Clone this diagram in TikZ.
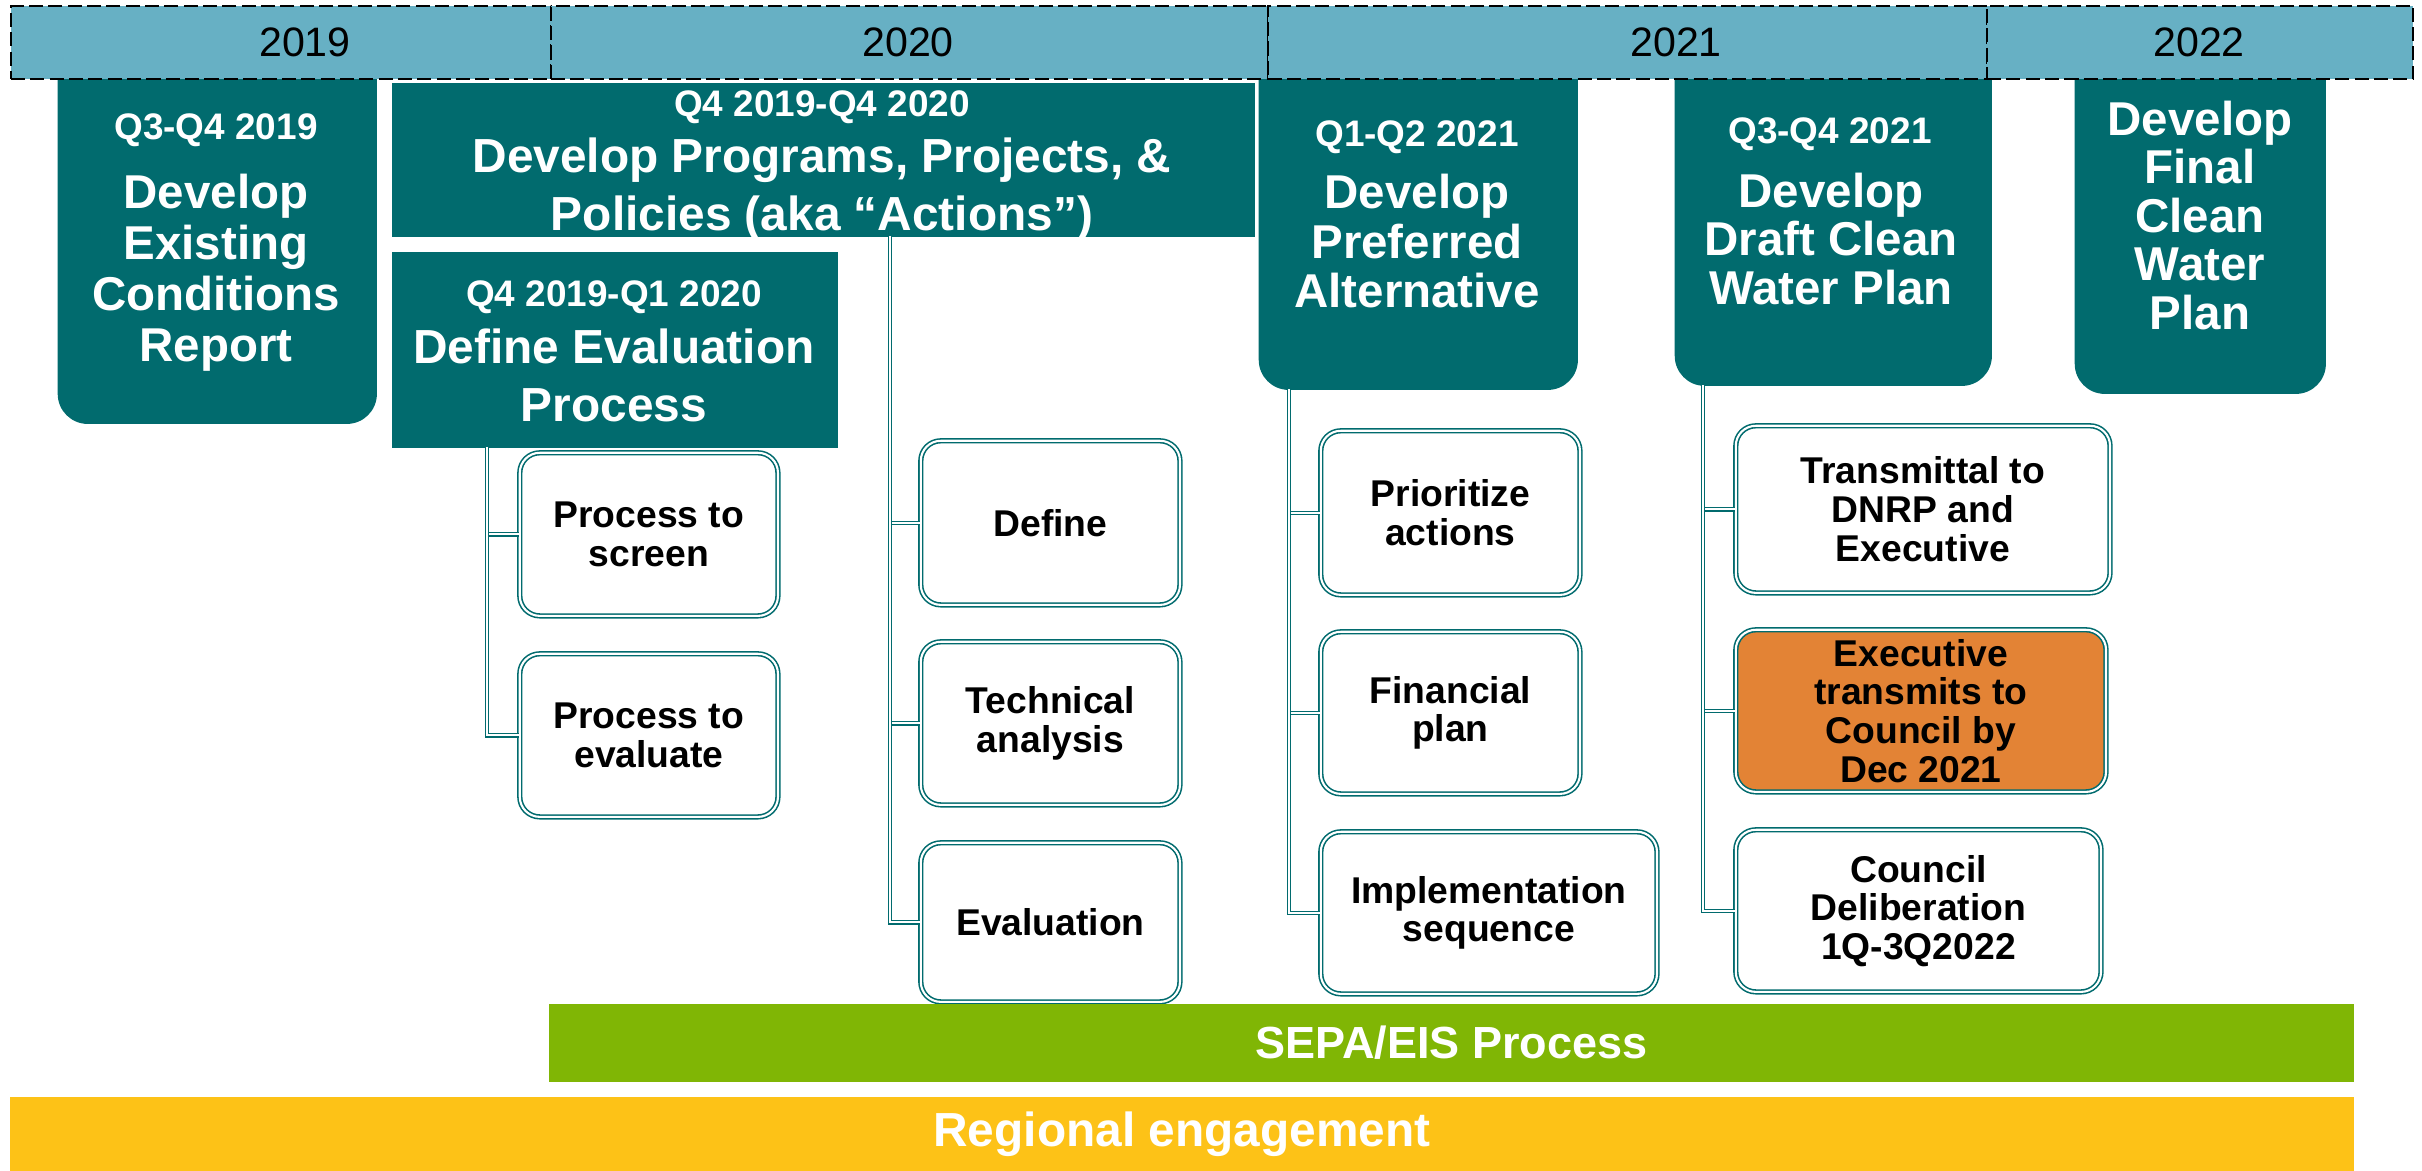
\documentclass[tikz,border=0pt]{standalone}
\usepackage{fontspec}
\setmainfont{Liberation Sans}
\definecolor{boxteal}{RGB}{1,107,110}
\definecolor{yearblue}{RGB}{103,176,196}
\definecolor{taskorange}{RGB}{227,131,53}
\definecolor{sepagreen}{RGB}{128,182,5}
\definecolor{engageyellow}{RGB}{253,194,23}

\begin{document}
\begin{tikzpicture}[x=0.01cm, y=-0.01cm,
    yearzone/.style ={rectangle, anchor=north west, inner sep=0, fill=yearblue, draw=black, line width=0.6pt, dash pattern=on 4pt off 1.5pt, minimum height=0.73cm},
    yearlabel/.style ={inner sep=0, font=\fontsize{11.7}{14}\selectfont},
    phasebox/.style ={rectangle, anchor=north west, inner sep=0, fill=boxteal},
    quarterlabel/.style ={anchor=north, inner sep=0, text=white, font=\bfseries\fontsize{10.5}{12}\selectfont},
    phasetitle/.style ={anchor=north, inner sep=0, text=white, align=center},
    taskbox/.style ={rectangle, anchor=north west, inner sep=0, rounded corners=0.2cm, draw=boxteal, line width=0.45pt, double=white, double distance=0.6pt, fill=white, align=center, font=\bfseries\fontsize{10.6}{11}\selectfont},
    bandbox/.style ={rectangle, anchor=north west, inner sep=0, text=white, font=\bfseries\fontsize{13.6}{16}\selectfont},
    treelink/.style ={draw=boxteal, line width=0.4pt, double=white, double distance=0.5pt}]
   \useasboundingbox (0,0) rectangle (2422,1170);

   % phase boxes, tops run under the year bar
   \node[phasebox, rounded corners=0.3cm, minimum width=3.19cm, minimum height=3.83cm] (exist) at (57,40) {};
   \node[phasebox, minimum width=8.63cm, minimum height=1.54cm] (actions) at (391,82) {};
   \node[phasebox, minimum width=4.46cm, minimum height=1.96cm] (evalproc) at (391,251) {};
   \node[phasebox, rounded corners=0.3cm, minimum width=3.19cm, minimum height=3.49cm] (pref) at (1258,40) {};
   \node[phasebox, rounded corners=0.3cm, minimum width=3.17cm, minimum height=3.45cm] (draft) at (1674,40) {};
   \node[phasebox, rounded corners=0.3cm, minimum width=2.51cm, minimum height=3.53cm] (final) at (2074,40) {};

   % year bar
   \node[yearzone, minimum width=5.40cm] (z2019) at (10,5) {};
   \node[yearzone, minimum width=7.17cm] (z2020) at (550,5) {};
   \node[yearzone, minimum width=7.19cm] (z2021) at (1267,5) {};
   \node[yearzone, minimum width=4.26cm] (z2022) at (1986,5) {};
   \node[yearlabel] (y2019) at (305,42) {2019};
   \node[yearlabel] (y2020) at (908,42) {2020};
   \node[yearlabel] (y2021) at (1676,42) {2021};
   \node[yearlabel] (y2022) at (2199,42) {2022};

   % phase texts
   \node[quarterlabel] (exist-q) at (216,113) {Q3-Q4 2019};
   \node[phasetitle, font=\bfseries\fontsize{13.5}{14.5}\selectfont] (exist-t) at (216,173) {Develop\\Existing\\Conditions\\Report};
   \node[quarterlabel] (actions-q) at (822,90) {Q4 2019-Q4 2020};
   \node[phasetitle, font=\bfseries\fontsize{13.6}{16.5}\selectfont] (actions-t) at (822,137) {Develop Programs, Projects, \&\\Policies (aka “Actions”)};
   \node[quarterlabel] (evalproc-q) at (614,280) {Q4 2019-Q1 2020};
   \node[phasetitle, font=\bfseries\fontsize{13.6}{16.5}\selectfont] (evalproc-t) at (614,328) {Define Evaluation\\Process};
   \node[quarterlabel] (pref-q) at (1417,120) {Q1-Q2 2021};
   \node[phasetitle, font=\bfseries\fontsize{13.5}{14.2}\selectfont] (pref-t) at (1417,173) {Develop\\Preferred\\Alternative};
   \node[quarterlabel] (draft-q) at (1830,117) {Q3-Q4 2021};
   \node[phasetitle, font=\bfseries\fontsize{13.5}{13.9}\selectfont] (draft-t) at (1831,172) {Develop\\Draft Clean\\Water Plan};
   \node[phasetitle, font=\bfseries\fontsize{13.5}{13.8}\selectfont] (final-t) at (2200,100) {Develop\\Final\\Clean\\Water\\Plan};

   % tasks
   \node[taskbox, minimum width=2.58cm, minimum height=1.63cm] (screen) at (519,452) {Process to\\screen};
   \node[taskbox, minimum width=2.58cm, minimum height=1.63cm] (evaluate) at (519,653) {Process to\\evaluate};
   \node[taskbox, minimum width=2.59cm, minimum height=1.64cm] (define) at (920,440) {Define};
   \node[taskbox, minimum width=2.59cm, minimum height=1.63cm] (techan) at (920,641) {Technical\\analysis};
   \node[taskbox, minimum width=2.59cm, minimum height=1.59cm] (evaluation) at (920,842) {Evaluation};
   \node[taskbox, minimum width=2.59cm, minimum height=1.64cm] (prio) at (1320,430) {Prioritize\\actions};
   \node[taskbox, minimum width=2.59cm, minimum height=1.62cm] (finplan) at (1320,631) {Financial\\plan};
   \node[taskbox, minimum width=3.36cm, minimum height=1.62cm] (implseq) at (1320,831) {Implementation\\sequence};
   \node[taskbox, minimum width=3.74cm, minimum height=1.67cm] (transmit) at (1735,425) {Transmittal to\\DNRP and\\Executive};
   \node[taskbox, fill=taskorange, minimum width=3.70cm, minimum height=1.62cm] (exectrans) at (1735,629) {Executive\\transmits to\\Council by\\Dec 2021};
   \node[taskbox, minimum width=3.65cm, minimum height=1.62cm] (council) at (1735,829) {Council\\Deliberation\\1Q-3Q2022};

   % tree connectors
   \coordinate (evalroot) at (487,447);
   \coordinate (actionsroot) at (890,236);
   \coordinate (prefroot) at (1289,389);
   \coordinate (draftroot) at (1703,385);
   \draw[treelink] (evalroot) |- (screen.west);
   \draw[treelink] (evalroot) |- (evaluate.west);
   \draw[treelink] (actionsroot) |- (define.west);
   \draw[treelink] (actionsroot) |- (techan.west);
   \draw[treelink] (actionsroot) |- (evaluation.west);
   \draw[treelink] (prefroot) |- (prio.west);
   \draw[treelink] (prefroot) |- (finplan.west);
   \draw[treelink] (prefroot) |- (implseq.west);
   \draw[treelink] (draftroot) |- (transmit.west);
   \draw[treelink] (draftroot) |- (exectrans.west);
   \draw[treelink] (draftroot) |- (council.west);

   % bands
   \node[bandbox, fill=sepagreen, minimum width=18.04cm, minimum height=0.78cm, font=\bfseries\fontsize{12.8}{15}\selectfont] (sepa) at (548,1003) {SEPA/EIS Process};
   \node[bandbox, fill=engageyellow, minimum width=23.43cm, minimum height=0.74cm] (engage) at (9,1096) {Regional engagement};
 \end{tikzpicture}
\end{document}
